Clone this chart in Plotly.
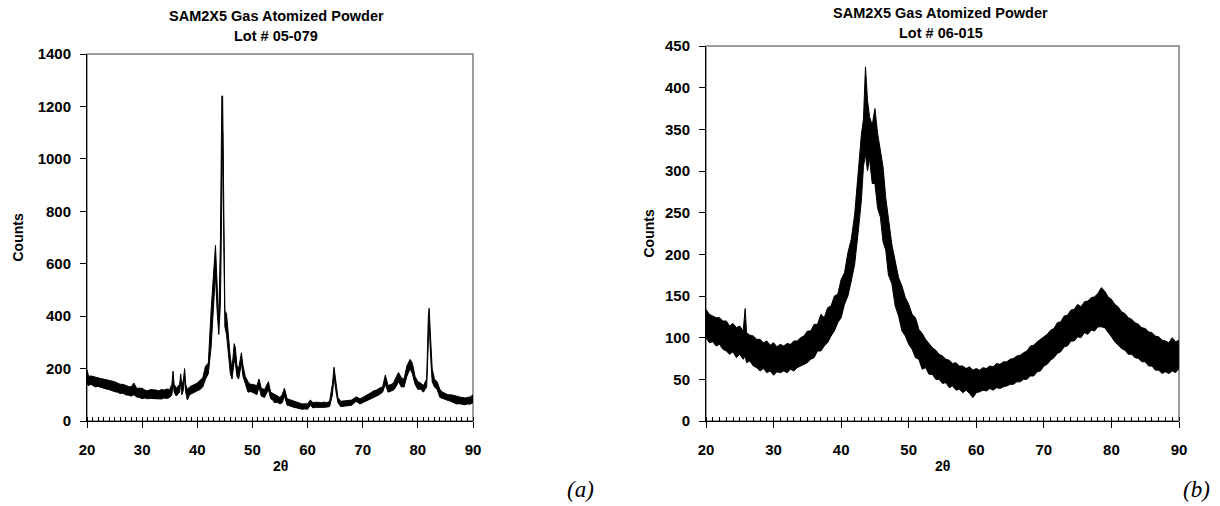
import plotly.graph_objects as go

# ---------------- Panel (a): Lot # 05-079 ----------------
theta_a = [20.0, 20.3, 20.7, 21.0, 21.5, 22.0, 22.5, 23.0, 23.5, 24.0, 24.5, 25.0, 25.5, 26.0, 26.5,
           27.0, 27.5, 28.0, 28.5, 29.0, 29.5, 30.0, 30.5, 31.0, 31.5, 32.0, 32.5, 33.0, 33.5, 34.0,
           34.5, 35.0, 35.4, 35.6, 35.8, 36.2, 36.8, 37.0, 37.2, 37.5, 37.7, 37.9, 38.2, 38.6, 39.0,
           39.5, 40.0, 40.5, 41.0, 41.5, 42.0, 42.5, 43.0, 43.3, 43.6, 43.9, 44.2, 44.45, 44.6, 44.8,
           45.0, 45.3, 45.6, 46.0, 46.3, 46.7, 46.9, 47.2, 47.5, 48.0, 48.3, 48.7, 49.2, 49.6, 50.0,
           50.4, 50.8, 51.2, 51.6, 52.2, 52.9, 53.3, 53.7, 54.0, 54.5, 55.0, 55.4, 55.8, 56.3, 56.7,
           57.0, 57.5, 58.0, 58.5, 59.0, 59.5, 60.0, 60.5, 61.0, 61.5, 62.0, 62.5, 63.0, 63.5, 64.0,
           64.5, 64.8, 65.1, 65.5, 66.0, 66.5, 67.0, 67.5, 68.0, 68.8, 69.5, 70.0, 70.5, 71.0, 71.5,
           72.0, 72.5, 73.0, 73.6, 74.1, 74.6, 75.2, 75.6, 76.0, 76.5, 77.0, 77.5, 78.0, 78.6, 79.0,
           79.5, 80.0, 80.5, 81.0, 81.6, 81.9, 82.05, 82.3, 82.6, 83.0, 83.5, 84.0, 84.5, 85.0, 85.5,
           86.0, 86.5, 87.0, 87.5, 88.0, 88.5, 89.0, 89.5, 90.0]
low_a = [140, 135, 140, 135, 130, 132, 128, 125, 122, 120, 115, 112, 110, 105, 106,
         100, 98, 95, 100, 92, 90, 85, 88, 85, 86, 85, 86, 85, 84, 88,
         86, 90, 100, 150, 110, 95, 110, 150, 100, 120, 170, 110, 80, 100, 105,
         110, 115, 120, 130, 160, 180, 280, 450, 560, 420, 330, 450, 900, 1100, 700,
         360, 330, 250, 180, 160, 230, 220, 170, 160, 220, 170, 140, 110, 112, 110,
         105, 100, 130, 95, 90, 120, 85, 80, 70, 72, 65, 70, 95, 60, 58,
         55, 52, 50, 48, 45, 46, 45, 60, 50, 52, 52, 50, 52, 53, 55,
         100, 170, 120, 70, 55, 56, 58, 60, 60, 75, 65, 70, 74, 80, 85,
         90, 95, 100, 110, 140, 110, 115, 118, 130, 150, 130, 130, 170, 200, 180,
         140, 120, 122, 110, 130, 300, 380, 250, 150, 130, 120, 90, 85, 80, 78,
         75, 70, 65, 66, 65, 62, 65, 64, 70]
high_a = [195, 170, 172, 170, 168, 165, 162, 160, 158, 155, 152, 150, 145, 140, 140,
          135, 132, 130, 145, 125, 126, 125, 118, 115, 120, 120, 118, 115, 120, 118,
          122, 120, 140, 190, 140, 125, 140, 180, 130, 160, 200, 140, 120, 130, 135,
          140, 145, 155, 165, 210, 220, 420, 560, 670, 520, 380, 700, 1240, 1240, 900,
          420, 410, 330, 240, 200, 295, 280, 210, 200, 260, 210, 170, 150, 140, 140,
          138, 135, 160, 125, 120, 150, 110, 105, 100, 95, 90, 100, 125, 85, 82,
          80, 75, 70, 68, 65, 66, 65, 80, 70, 72, 70, 70, 72, 70, 75,
          140, 205, 160, 90, 75, 76, 78, 78, 80, 92, 85, 90, 95, 100, 108,
          115, 118, 125, 130, 175, 135, 140, 145, 165, 185, 165, 160, 210, 235, 220,
          170, 150, 145, 135, 160, 400, 430, 320, 200, 160, 150, 120, 110, 105, 100,
          100, 96, 95, 92, 90, 88, 90, 92, 100]

# ---------------- Panel (b): Lot # 06-015 ----------------
theta_b = [20.0, 20.5, 21.0, 21.5, 22.0, 22.5, 23.0, 23.5, 24.0, 24.5, 25.0, 25.5, 25.8, 26.0, 26.5,
           27.0, 27.5, 28.0, 28.5, 29.0, 29.5, 30.0, 30.5, 31.0, 31.5, 32.0, 32.5, 33.0, 33.5, 34.0,
           34.5, 35.0, 35.5, 36.0, 36.5, 37.0, 37.5, 38.0, 38.5, 39.0, 39.5, 40.0, 40.5, 41.0, 41.5,
           42.0, 42.5, 43.0, 43.3, 43.6, 43.9, 44.2, 44.6, 45.0, 45.4, 45.8, 46.2, 46.6, 47.0, 47.5,
           48.0, 48.5, 49.0, 49.5, 50.0, 50.5, 51.0, 51.5, 52.0, 52.5, 53.0, 53.5, 54.0, 54.5, 55.0,
           55.5, 56.0, 56.5, 57.0, 57.5, 58.0, 58.5, 59.0, 59.5, 60.0, 60.5, 61.0, 61.5, 62.0, 62.5,
           63.0, 63.5, 64.0, 64.5, 65.0, 65.5, 66.0, 66.5, 67.0, 67.5, 68.0, 68.5, 69.0, 69.5, 70.0,
           70.5, 71.0, 71.5, 72.0, 72.5, 73.0, 73.5, 74.0, 74.5, 75.0, 75.5, 76.0, 76.5, 77.0, 77.5,
           78.0, 78.5, 79.0, 79.5, 80.0, 80.5, 81.0, 81.5, 82.0, 82.5, 83.0, 83.5, 84.0, 84.5, 85.0,
           85.5, 86.0, 86.5, 87.0, 87.5, 88.0, 88.5, 89.0, 89.5, 90.0]
low_b = [100, 94, 95, 90, 92, 86, 84, 80, 83, 76, 80, 74, 78, 70, 72,
         66, 64, 60, 63, 58, 60, 55, 59, 58, 60, 58, 62, 60, 64, 66,
         68, 70, 74, 76, 84, 84, 90, 94, 102, 108, 118, 124, 140, 150, 168,
         188, 225, 265, 305, 320, 300, 315, 285, 285, 255, 245, 215, 205, 175, 165,
         138, 126, 108, 102, 92, 86, 76, 74, 62, 64, 56, 56, 50, 50, 45,
         46, 40, 42, 37, 38, 34, 37, 33, 28, 34, 35, 37, 36, 39, 37,
         40, 39, 41, 42, 44, 44, 47, 47, 50, 50, 54, 54, 59, 60, 66,
         68, 73, 76, 81, 83, 89, 90, 96, 96, 101, 100, 106, 104, 109, 108,
         113, 113, 112, 107, 101, 95, 91, 87, 85, 80, 80, 76, 75, 71, 71,
         66, 66, 61, 61, 57, 59, 57, 60, 58, 63]
high_b = [134, 128, 126, 124, 124, 120, 120, 114, 117, 112, 114, 108, 135, 106, 103,
          102, 98, 98, 94, 96, 91, 94, 89, 92, 90, 93, 92, 96, 96, 100,
          102, 108, 108, 116, 116, 128, 124, 136, 138, 150, 152, 170, 178, 202, 218,
          248, 296, 344, 362, 425, 385, 365, 355, 375, 345, 325, 305, 268, 243, 212,
          192, 172, 162, 148, 140, 128, 124, 110, 105, 98, 93, 88, 85, 80, 78,
          74, 73, 69, 70, 66, 66, 63, 65, 61, 63, 61, 64, 63, 66, 65,
          69, 68, 71, 71, 74, 75, 78, 79, 82, 84, 90, 91, 95, 98, 102,
          104, 109, 111, 118, 119, 126, 127, 133, 134, 140, 137, 143, 144, 148, 149,
          153, 160, 156, 149, 146, 140, 137, 131, 129, 124, 122, 118, 116, 112, 111,
          107, 106, 102, 101, 97, 96, 94, 100, 95, 97]

x_ticks = [20, 30, 40, 50, 60, 70, 80, 90]
y_ticks_a = [0, 200, 400, 600, 800, 1000, 1200, 1400]
y_ticks_b = [0, 50, 100, 150, 200, 250, 300, 350, 400, 450]
title_a = ["SAM2X5 Gas Atomized Powder", "Lot # 05-079"]
title_b = ["SAM2X5 Gas Atomized Powder", "Lot # 06-015"]
x_title = "2θ"
y_title = "Counts"

assert len(theta_a) == len(low_a) == len(high_a)
assert len(theta_b) == len(low_b) == len(high_b)

FONT = "Liberation Sans"
W, H = 1220, 506
dom_a = [87 / W, 473 / W]
dom_b = [706 / W, 1179 / W]
ydom_a = [(H - 421) / H, (H - 54) / H]
ydom_b = [(H - 421) / H, (H - 46) / H]

fig = go.Figure()


def add_band(x, lo, hi, xa, ya):
    fig.add_trace(go.Scatter(x=x, y=lo, mode="lines", line=dict(color="black", width=1),
                             xaxis=xa, yaxis=ya, showlegend=False, hoverinfo="skip"))
    fig.add_trace(go.Scatter(x=x, y=hi, mode="lines", line=dict(color="black", width=1),
                             fill="tonexty", fillcolor="black",
                             xaxis=xa, yaxis=ya, showlegend=False))


add_band(theta_a, low_a, high_a, "x", "y")
add_band(theta_b, low_b, high_b, "x2", "y2")

tickfont = dict(family=FONT, size=15, color="black")


def bold(vals):
    return ["<b>%d</b>" % v for v in vals]


xcommon = dict(range=[20, 90], tickvals=x_ticks, ticktext=bold(x_ticks), ticks="outside", ticklen=6,
               tickcolor="black", showline=True, linecolor="black", linewidth=1, showgrid=False,
               zeroline=False, tickfont=tickfont, automargin=False, ticklabelstandoff=9,
               minor=dict(ticks="inside", dtick=1, ticklen=4, tickcolor="black", showgrid=False))
ycommon = dict(ticks="outside", ticklen=6, tickcolor="black", showline=True, linecolor="black",
               linewidth=1, showgrid=False, zeroline=False, tickfont=tickfont, automargin=False,
               ticklabelstandoff=6)

fig.update_layout(
    width=W, height=H,
    template="none",
    margin=dict(l=0, r=0, t=0, b=0),
    paper_bgcolor="white", plot_bgcolor="white",
    xaxis=dict(domain=dom_a, anchor="y", **xcommon),
    yaxis=dict(domain=ydom_a, anchor="x", range=[0, 1400], tickvals=y_ticks_a,
               ticktext=bold(y_ticks_a), **ycommon),
    xaxis2=dict(domain=dom_b, anchor="y2", **xcommon),
    yaxis2=dict(domain=ydom_b, anchor="x2", range=[0, 450], tickvals=y_ticks_b,
                ticktext=bold(y_ticks_b), **ycommon),
)

# grey frame (top/right border)
for xr, yr in (("x domain", "y domain"), ("x2 domain", "y2 domain")):
    fig.add_shape(type="rect", xref=xr, yref=yr, x0=0, x1=1, y0=0, y1=1,
                  line=dict(color="#808080", width=1.5), layer="below")

tfont = dict(family=FONT, size=14.5, color="black")
afont = dict(family=FONT, size=14, color="black")
for lines, dom, ydom, y1, y2, tx, cxo in ((title_a, dom_a, ydom_a, 16, 36, 70, -4),
                                          (title_b, dom_b, ydom_b, 13, 33, 58, -2)):
    cx = (dom[0] + dom[1]) / 2 + cxo / W
    fig.add_annotation(text="<b>%s</b>" % lines[0], x=cx, y=1 - y1 / H, xref="paper", yref="paper",
                       showarrow=False, font=tfont, xanchor="center", yanchor="middle")
    fig.add_annotation(text="<b>%s</b>" % lines[1], x=cx, y=1 - y2 / H, xref="paper", yref="paper",
                       showarrow=False, font=tfont, xanchor="center", yanchor="middle")
    fig.add_annotation(text="<b>%s</b>" % x_title, x=(dom[0] + dom[1]) / 2, y=1 - 466 / H,
                       xref="paper", yref="paper",
                       showarrow=False, font=afont, xanchor="center", yanchor="middle")
    fig.add_annotation(text="<b>%s</b>" % y_title, x=dom[0] - tx / W, y=(ydom[0] + ydom[1]) / 2,
                       xref="paper", yref="paper", textangle=-90,
                       showarrow=False, font=afont, xanchor="center", yanchor="middle")

labfont = dict(family="Liberation Serif", size=23, color="black", style="italic")
fig.add_annotation(text="(a)", x=580 / W, y=1 - 489 / H, xref="paper", yref="paper",
                   showarrow=False, font=labfont, xanchor="center", yanchor="middle")
fig.add_annotation(text="(b)", x=1196 / W, y=1 - 489 / H, xref="paper", yref="paper",
                   showarrow=False, font=labfont, xanchor="center", yanchor="middle")

fig.write_html("out.html")
